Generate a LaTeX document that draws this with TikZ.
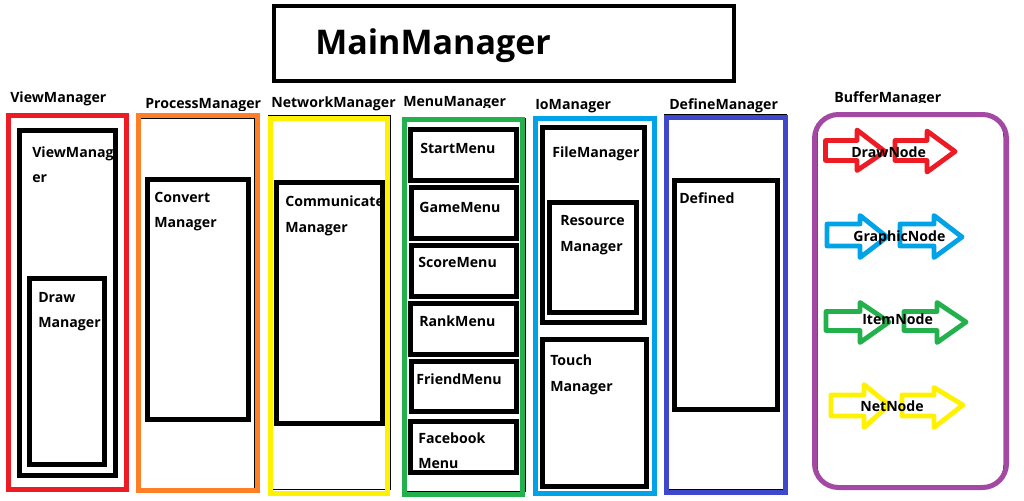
\documentclass[tikz,border=0pt]{standalone}
\usepackage{fontspec}
\setmainfont{Open Sans}
\definecolor{vred}{RGB}{237,28,36}
\definecolor{vorange}{RGB}{255,127,39}
\definecolor{vyellow}{RGB}{255,242,0}
\definecolor{vgreen}{RGB}{34,177,76}
\definecolor{vturq}{RGB}{0,162,232}
\definecolor{vindigo}{RGB}{63,72,204}
\definecolor{vpurple}{RGB}{163,73,164}
\begin{document}
\begin{tikzpicture}[x=0.75pt,y=-0.75pt,
  lbl/.style={anchor=base west, inner sep=0pt, font=\bfseries\fontsize{10.6}{12}\selectfont},
  title/.style={anchor=base west, inner sep=0pt, font=\bfseries\fontsize{25.5}{28}\selectfont},
  box/.style={draw=black, line width=3.75pt},
  col/.style={line width=3.75pt},
  thinline/.style={draw=black, line width=0.75pt},
  blockarr/.style={line width=3.6pt, line join=round, line cap=round}]
\useasboundingbox[fill=white] (0,0) rectangle (1024,500);

% main manager
\draw[draw=black, line width=3.25pt] (274,6) rectangle (734,81);
\node[title] (main) at (315,54) {MainManager};

% column labels
\node[lbl] (lview) at (10,102) {ViewManager};
\begin{scope}
  \clip (130,80) rectangle (268,110);
  \node[lbl] (lproc) at (145,108) {ProcessManager};
\end{scope}
\node[lbl] (lnet) at (271,107) {NetworkManager};
\begin{scope}
  \clip (398,80) rectangle (530,107);
  \node[lbl] (lmenu) at (403,106) {MenuManager};
\end{scope}
\node[lbl] (lio) at (535,109) {IoManager};
\node[lbl] (ldef) at (669,109) {DefineManager};
\begin{scope}
  \clip (825,80) rectangle (1000,102.5);
  \node[lbl] (lbuf) at (834,102) {BufferManager};
\end{scope}

% thin black backing lines
\draw[thinline] (6,113) -- (128,113);
\draw[thinline] (141,118) -- (254,118) -- (254,490);
\draw[thinline] (268,115) rectangle (390,489);
\draw[thinline] (402,118) rectangle (525,491);
\draw[thinline] (664,114) rectangle (786,489);
\draw[thinline, rounded corners=17pt] (817,114) rectangle (1004,488);

% coloured columns
\draw[col, draw=vred] (8.5,115.5) rectangle (126.5,489.5);
\draw[col, draw=vorange] (138.5,115.5) rectangle (257.5,490.5);
\draw[col, draw=vyellow] (270.5,118.5) rectangle (387.5,493.5);
\draw[col, draw=vgreen] (404.5,119.5) rectangle (522.5,494.5);
\draw[col, draw=vturq] (535.5,118.5) rectangle (654.5,493.5);
\draw[col, draw=vindigo] (666.5,117.5) rectangle (785.5,492.5);
\draw[col, draw=vpurple, rounded corners=18pt] (814.5,114.5) rectangle (1006.5,487.5);

% texts inside boxes
\node[lbl] (vm1) at (32,157) {ViewManag};
\node[lbl] (vm2) at (32,182) {er};
\node[lbl] (dm1) at (38,302) {Draw};
\node[lbl] (dm2) at (38,327) {Manager};
\node[lbl] (cv1) at (154,202) {Convert};
\node[lbl] (cv2) at (154,227) {Manager};
\node[lbl] (cm1) at (285,206) {Communicate};
\node[lbl] (cm2) at (285,232) {Manager};
\node[lbl] (sm) at (420,153) {StartMenu};
\node[lbl] (gm) at (419,212) {GameMenu};
\node[lbl] (scm) at (418,267) {ScoreMenu};
\node[lbl] (rm) at (419,326) {RankMenu};
\node[lbl] (fm) at (416,384) {FriendMenu};
\node[lbl] (fb1) at (418,443) {Facebook};
\node[lbl] (fb2) at (418,468) {Menu};
\node[lbl] (fim) at (552,157) {FileManager};
\node[lbl] (rs1) at (560,225) {Resource};
\node[lbl] (rs2) at (560,251) {Manager};
\node[lbl] (tm1) at (550,365) {Touch};
\node[lbl] (tm2) at (550,391) {Manager};
\node[lbl] (dfd) at (679,203) {Defined};

% black boxes
\draw[box] (19.5,130.5) rectangle (115.5,475.5);
\draw[box] (29.5,278.5) rectangle (104.5,464.5);
\draw[box] (147.5,179.5) rectangle (248.5,419.5);
\draw[box] (276.5,182.5) rectangle (382.5,423.5);
\draw[box] (410.5,129.5) rectangle (516.5,180.5);
\draw[box] (411.5,187.5) rectangle (516.5,238.5);
\draw[box] (411.5,245.5) rectangle (516.5,296.5);
\draw[box] (410.5,303.5) rectangle (516.5,354.5);
\draw[box] (411.5,361.5) rectangle (516.5,411.5);
\draw[box] (410.5,421.5) rectangle (516.5,472.5);
\draw[box] (542.5,127.5) rectangle (644.5,322.5);
\draw[box] (549.5,202.5) rectangle (636.5,312.5);
\draw[box] (542.5,339.5) rectangle (646.5,486.5);
\draw[box] (674.5,180.5) rectangle (777.5,409.5);

% buffer arrows
\draw[blockarr, draw=vred] (825.5,140.5) -- (857,140.5) -- (857,130) -- (885,151.5) -- (857,170.5) -- (857,160.5) -- (825.5,160.5) -- cycle;
\draw[blockarr, draw=vred] (895,140.5) -- (927,140.5) -- (927,131) -- (955,151.5) -- (927,172) -- (927,160.5) -- (895,160.5) -- cycle;
\draw[blockarr, draw=vturq] (827,224) -- (860,224) -- (860,215.5) -- (887,237) -- (860,257.5) -- (860,246) -- (827,246) -- cycle;
\draw[blockarr, draw=vturq] (900,224) -- (934,224) -- (934,215.5) -- (962,237) -- (934,257.5) -- (934,246) -- (900,246) -- cycle;
\draw[blockarr, draw=vgreen] (826,311.5) -- (860,311.5) -- (860,302.5) -- (889,322) -- (860,342.5) -- (860,330.5) -- (826,330.5) -- cycle;
\draw[blockarr, draw=vgreen] (904,311.5) -- (937,311.5) -- (937,302.5) -- (966,322) -- (937,342.5) -- (937,330.5) -- (904,330.5) -- cycle;
\draw[blockarr, draw=vyellow] (831,395) -- (864,395) -- (864,384.5) -- (889,405) -- (864,427.5) -- (864,416) -- (831,416) -- cycle;
\draw[blockarr, draw=vyellow] (902,395) -- (934,395) -- (934,387.5) -- (963,405) -- (934,427.5) -- (934,416) -- (902,416) -- cycle;

\node[lbl] (dn) at (851,157) {DrawNode};
\node[lbl] (gn) at (853,241) {GraphicNode};
\node[lbl] (itn) at (862,324) {ItemNode};
\node[lbl] (nn) at (860,411) {NetNode};
\end{tikzpicture}
\end{document}
